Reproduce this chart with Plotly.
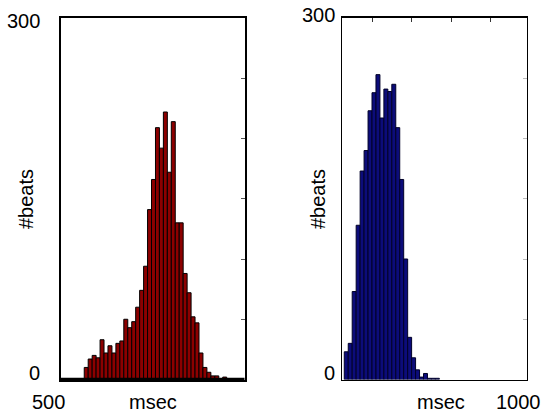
import plotly.graph_objects as go

# ---- data ----
bin_width = 10  # msec
left_first_bin = 585
left_counts = [10, 17, 20, 18, 33, 22, 28, 22, 30, 32, 50, 43, 48, 60, 74, 94, 141, 166,
               209, 192, 222, 172, 214, 130, 130, 88, 72, 52, 47, 22, 10, 6, 3, 3, 0, 2]
right_first_bin = 530
right_counts = [23, 30, 73, 128, 173, 190, 223, 238, 253, 217, 241, 239, 245, 209, 166,
                100, 35, 18, 8, 2, 5, 1, 1, 1]
left_x = [left_first_bin + bin_width * (i + 0.5) for i in range(len(left_counts))]
right_x = [right_first_bin + bin_width * (i + 0.5) for i in range(len(right_counts))]

x_range = [525, 990]
y_range = [0, 300]
y_ticks = [50, 100, 150, 200, 250]
x_ticks = [600, 700, 800, 900]

W, H = 542, 413
FONT = "Liberation Sans, Arial, Helvetica, sans-serif"

def px(x):
    return x / W

def py(y):
    return 1 - y / H

fig = go.Figure()
fig.add_trace(go.Bar(x=left_x, y=left_counts, width=bin_width,
                     marker=dict(color="#8c0000", line=dict(color="black", width=1)),
                     xaxis="x", yaxis="y", showlegend=False, hoverinfo="skip"))
fig.add_trace(go.Bar(x=right_x, y=right_counts, width=bin_width,
                     marker=dict(color="#0c0c7a", line=dict(color="#000028", width=1)),
                     xaxis="x2", yaxis="y2", showlegend=False, hoverinfo="skip"))

ydom = [py(379.5), py(18)]
common_axis = dict(showline=True, linecolor="black", mirror=True,
                   showgrid=False, zeroline=False, showticklabels=False)

fig.update_layout(
    width=W, height=H,
    margin=dict(l=0, r=0, t=0, b=0),
    paper_bgcolor="white", plot_bgcolor="white",
    bargap=0,
    font=dict(family=FONT, size=20, color="black"),
    xaxis=dict(domain=[px(60.5), px(244.5)], range=x_range, ticks="", linewidth=2,
               **common_axis),
    yaxis=dict(domain=ydom, range=y_range, side="right", ticks="inside", ticklen=4,
               tickcolor="#555", tickvals=y_ticks, anchor="x", linewidth=2, **common_axis),
    xaxis2=dict(domain=[px(342.3), px(526.5)], range=x_range, side="top", ticks="inside",
                ticklen=4, tickcolor="#333", tickvals=x_ticks, anchor="y2", linewidth=1.8,
                **common_axis),
    yaxis2=dict(domain=ydom, range=y_range, side="right", ticks="inside", ticklen=4,
                tickcolor="#bbb", tickvals=y_ticks, anchor="x2", linewidth=1.8,
                **common_axis),
)

# thick bottom axis line of the left panel
fig.add_shape(type="line", xref="x domain", yref="y domain", x0=0, x1=1, y0=0, y1=0,
              line=dict(color="black", width=3.5))

labels = [
    ("300", 41.5, 21, "right", 0),
    ("0", 41.5, 373, "right", 0),
    ("500", 48, 401.5, "center", 0),
    ("msec", 153, 401.5, "center", 0),
    ("#beats", 26, 199, "center", -90),
    ("300", 336.5, 15, "right", 0),
    ("0", 336.5, 373, "right", 0),
    ("msec", 441, 401.5, "center", 0),
    ("1000", 518, 401.5, "center", 0),
    ("#beats", 318, 199, "center", -90),
]
for text, x, y, xa, ang in labels:
    fig.add_annotation(text=text, x=px(x), y=py(y), xref="paper", yref="paper",
                       xanchor=xa, yanchor="middle", showarrow=False, textangle=ang,
                       font=dict(family=FONT, size=20, color="black"))

fig.write_html("out.html", config={"displayModeBar": False, "staticPlot": True},
               post_script="document.body.style.margin='0';document.body.style.overflow='hidden';")
